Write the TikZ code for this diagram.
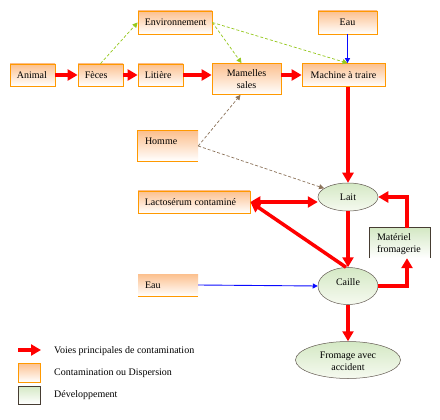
\documentclass[tikz,border=0pt]{standalone}
\usepackage{fontspec}
\setmainfont{Liberation Serif}
\usetikzlibrary{arrows.meta,shapes.geometric,calc}
\definecolor{obord}{RGB}{255,153,0}
\definecolor{otop}{RGB}{252,192,142}
\definecolor{gtop}{RGB}{212,232,196}
\definecolor{gbot}{RGB}{246,250,240}
\definecolor{envg}{RGB}{150,200,30}
\definecolor{hbrown}{RGB}{140,115,90}
\definecolor{ebord}{RGB}{70,60,50}
\definecolor{eaublue}{RGB}{10,10,255}
\begin{document}
\begin{tikzpicture}[x=1pt,y=-1pt,font=\fontsize{10}{12}\selectfont,
  obfill/.style={rectangle,inner sep=0pt,top color=otop,bottom color=white},
  obox/.style={obfill,draw=obord,line width=0.8pt},
  oborder/.style={draw=obord,line width=0.8pt},
  gbox/.style={rectangle,inner sep=0pt,top color=gtop,bottom color=white,draw=ebord,line width=0.7pt},
  ellbox/.style={ellipse,inner sep=0pt,top color=gtop,bottom color=gbot,draw=ebord!85,line width=0.5pt},
  lbl/.style={inner sep=0pt,anchor=west},
  clbl/.style={inner sep=0pt,align=center},
  redarr/.style={draw=red,line width=3.5pt,-{Triangle[length=10pt,width=11pt]}},
  redboth/.style={draw=red,line width=3.5pt,{Triangle[length=10pt,width=11pt]}-{Triangle[length=10pt,width=11pt]}},
  envarr/.style={draw=envg,densely dashed,line width=0.7pt,-{Triangle[length=5pt,width=5pt]}},
  homarr/.style={draw=hbrown,densely dashed,line width=0.7pt,-{Triangle[length=5pt,width=5pt]}},
  eauarr/.style={draw=eaublue,line width=0.9pt,-{Triangle[length=5pt,width=5pt]}}
]
\useasboundingbox (0,0) rectangle (440,420);
\fill[white] (0,0) rectangle (440,420);

% orange boxes
\node[obox,minimum width=45pt,minimum height=22pt] (animal) at (32.5,75) {};
\node[obox,minimum width=45pt,minimum height=22pt] (feces) at (100.5,75) {};
\node[obox,minimum width=45pt,minimum height=22pt] (litiere) at (160.5,75) {};
\node[obox,minimum width=74pt,minimum height=23pt] (env) at (175,22.5) {};
\node[obox,minimum width=69pt,minimum height=31pt] (mamelles) at (246.5,79) {};
\node[obox,minimum width=83pt,minimum height=23pt] (machine) at (343.5,75) {};
\node[obox,minimum width=59pt,minimum height=23pt] (eau1) at (347.5,22.5) {};
\node[obfill,minimum width=60pt,minimum height=30pt] (homme) at (168,146) {};
\draw[oborder] (homme.north east) -- (homme.north west) -- (homme.south west) -- (homme.south east);
\node[obox,minimum width=112pt,minimum height=22pt] (lacto) at (194,202) {};
\node[obfill,minimum width=60pt,minimum height=22pt] (eau2) at (168,285) {};
\draw[oborder] (eau2.south west) -- (eau2.south east);

% green box and ellipses
\node[rectangle,inner sep=0pt,top color=gtop,bottom color=white,minimum width=60pt,minimum height=30pt] (materiel) at (400,243) {};
\draw[draw=ebord,line width=0.7pt] (materiel.south west) -- (materiel.north west) -- (materiel.north east) -- (materiel.south east);
\node[ellbox,minimum width=60pt,minimum height=28pt] (lait) at (348,197) {};
\node[ellbox,minimum width=60pt,minimum height=37pt] (caille) at (348,286) {};
\node[ellbox,minimum width=105pt,minimum height=37pt] (fromage) at (348,360) {};

% labels
\node[lbl] at ($(animal.west)+(7,0)$) {Animal};
\node[lbl] at ($(feces.west)+(7,0)$) {Fèces};
\node[lbl] at ($(litiere.west)+(7,0)$) {Litière};
\node[lbl] at ($(env.west)+(7,0)$) {Environnement};
\node[clbl] at (mamelles.center) {Mamelles\\sales};
\node[clbl] at (machine.center) {Machine à traire};
\node[clbl] at (eau1.center) {Eau};
\node[lbl] at ($(homme.north west)+(7,10)$) {Homme};
\node[lbl] at ($(lacto.west)+(7,0)$) {Lactosérum contaminé};
\node[lbl] at ($(eau2.west)+(7,0)$) {Eau};
\node[lbl,align=left] at ($(materiel.west)+(7,1)$) {Matériel\\fromagerie};
\node[clbl] at (lait.center) {Lait};
\node[clbl] at ($(caille.center)+(0,-4)$) {Caille};
\node[clbl] at ($(fromage.center)+(0,1)$) {Fromage avec\\accident};

% red main paths
\draw[redarr] (animal) -- (feces);
\draw[redarr] (feces) -- (litiere);
\draw[redarr] (litiere.east) -- (litiere.east -| mamelles.west);
\draw[redarr] (machine.west -| mamelles.east) -- (machine.west);
\draw[redarr] (lait.north |- machine.south) -- (lait.north);
\draw[redboth] (lacto.east) -- (lait.west |- lacto.east);
\draw[redarr] ($(caille.north)+(-2,0)$) -- (lacto.east);
\draw[redarr] (lait.south) -- (caille.north);
\draw[redarr] (caille.east) -| ($(materiel.south)+(7,0)$);
\draw[redarr] ($(materiel.north)+(7,0)$) |- (lait.east);
\draw[redarr] (caille.south) -- (fromage.north);

% thin paths
\draw[envarr] (feces.north) -- (env.west);
\draw[envarr] (env.east) -- ($(mamelles.north)+(-5,0)$);
\draw[envarr] (env.east) -- (eau1.south |- machine.north);
\draw[eauarr] (eau1.south) -- (eau1.south |- machine.north);
\draw[homarr] (homme.east) -- ($(mamelles.south)+(-6,0)$);
\draw[homarr] (homme.east) -- (lait.160);
\draw[eauarr] (eau2.east) -- (caille.west);

% legend
\coordinate (lga) at (18,350);
\coordinate (lgb) at (41,350);
\draw[redarr] (lga) -- (lgb);
\node[obox,minimum width=22pt,minimum height=19pt] (lg2) at (29,372.5) {};
\node[gbox,minimum width=22pt,minimum height=18pt] (lg3) at (29,395) {};
\node[lbl] at (54,351) {Voies principales de contamination};
\node[lbl] at (54,373) {Contamination ou Dispersion};
\node[lbl] at (54,395) {Développement};
\end{tikzpicture}
\end{document}
